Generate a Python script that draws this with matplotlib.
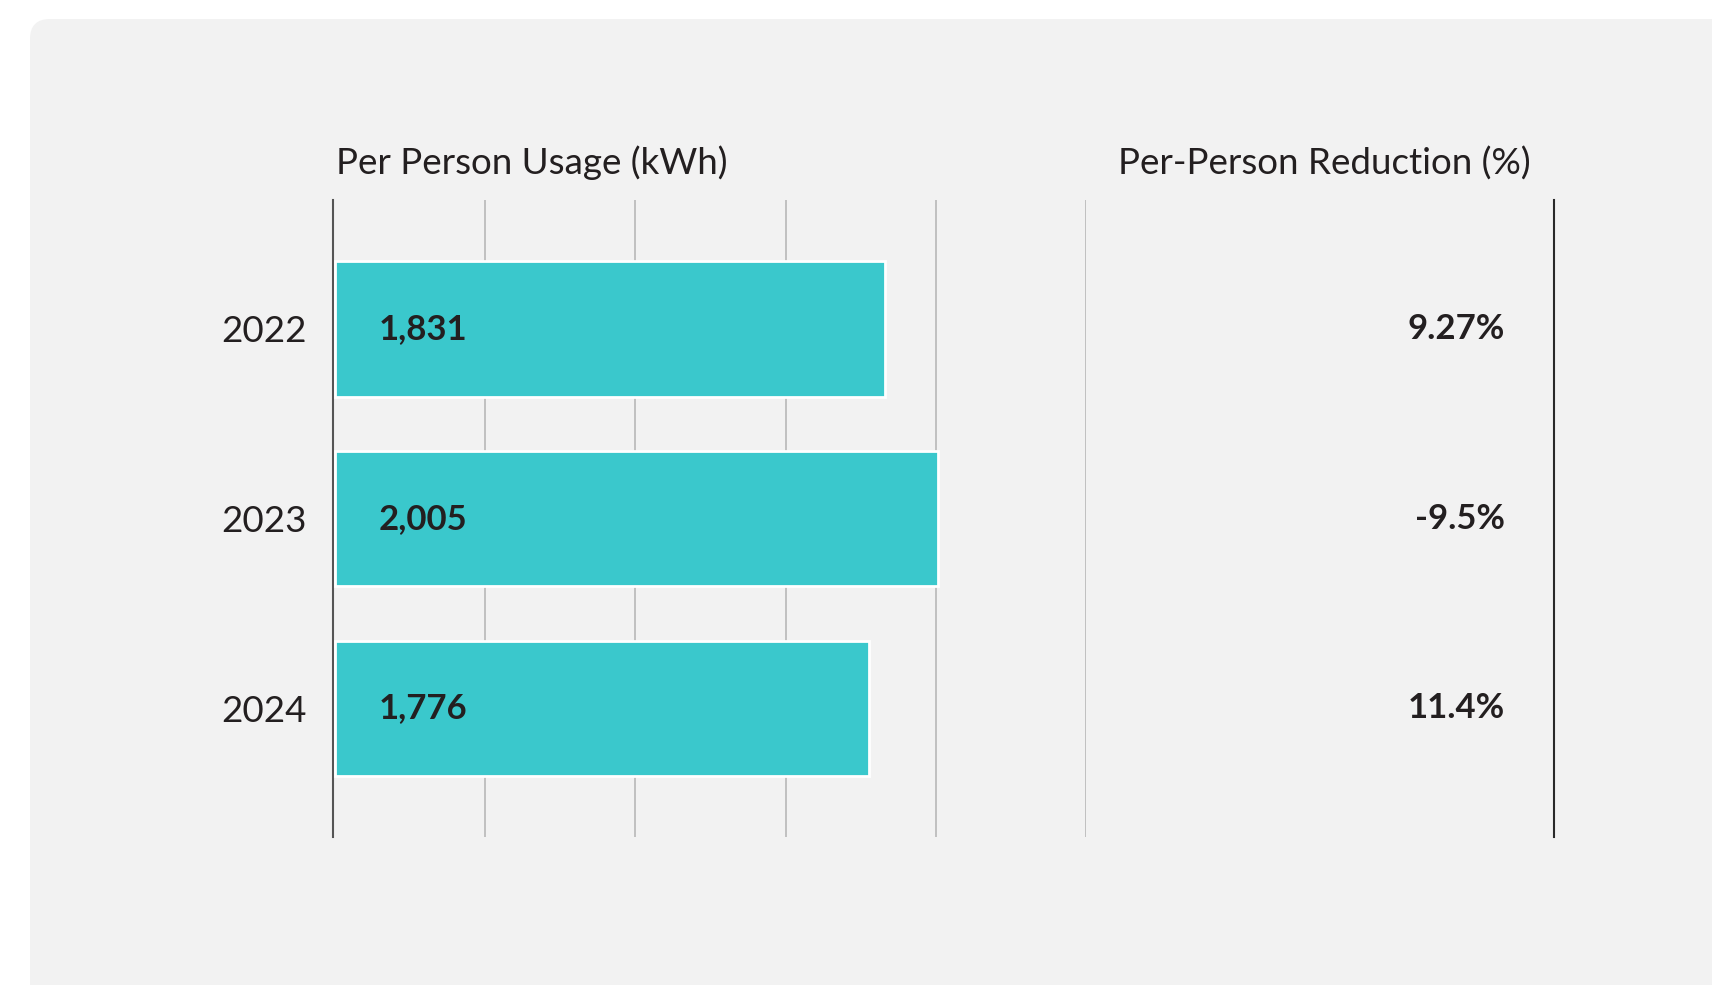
import matplotlib.pyplot as plt
from matplotlib.patches import FancyBboxPatch

years = ["2022", "2023", "2024"]
usage_kwh = [1831, 2005, 1776]
reduction_labels = ["9.27%", "-9.5%", "11.4%"]
grid_ticks = [0, 500, 1000, 1500, 2000, 2500]

TEAL = "#3ac8cc"
PANEL = "#f2f2f2"
INK = "#231f20"

plt.rcParams['font.family'] = ['Lato', 'DejaVu Sans']

W, H = 1712, 985
fig = plt.figure(figsize=(W / 100, H / 100), dpi=100)
fig.patch.set_facecolor("white")

# rounded grey card behind everything (pixel coordinates)
bg = fig.add_axes([0, 0, 1, 1], zorder=-1)
bg.set_xlim(0, W)
bg.set_ylim(H, 0)
bg.axis("off")
bg.add_patch(FancyBboxPatch((30, 19), W + 100, H + 100,
                            boxstyle="round,pad=0,rounding_size=20",
                            facecolor=PANEL, edgecolor="none"))

# bar panel
ax = fig.add_axes([333 / W, 147.6 / H, 753.4 / W, 637.6 / H])
ax.set_facecolor("none")
ypos = list(range(len(years)))
ax.barh(ypos, usage_kwh, height=0.715, color=TEAL, edgecolor="white",
        linewidth=2, zorder=3)
ax.set_xlim(-5, 2500)
ax.set_ylim(len(years) - 0.32, -0.68)

for g in grid_ticks[1:]:
    ax.axvline(g, color="#bcbcbc", lw=1.3, zorder=1)

for s in ["top", "right", "bottom"]:
    ax.spines[s].set_visible(False)
ax.spines["left"].set_color("#555555")
ax.spines["left"].set_linewidth(1.5)
ax.set_xticks([])
ax.set_yticks(ypos)
ax.set_yticklabels(years, fontsize=26.5, color=INK)
ax.tick_params(axis="y", length=0, pad=19)

for y, v in zip(ypos, usage_kwh):
    ax.annotate(f"{v:,}", (0, y), xytext=(31.5, 0), textcoords="offset points",
                ha="left", va="center", fontsize=25, fontweight="bold",
                color=INK, zorder=4)

ax.text(0.004, 1.04, "Per Person Usage (kWh)", transform=ax.transAxes,
        ha="left", va="baseline", fontsize=26.5, color=INK)

# percentage column
ax2 = fig.add_axes([1086.4 / W, 147.6 / H, 467.2 / W, 637.6 / H], sharey=ax)
ax2.set_facecolor("none")
ax2.set_xlim(0, 1)
for s in ["top", "bottom", "left"]:
    ax2.spines[s].set_visible(False)
ax2.spines["right"].set_color("#2a2a2a")
ax2.spines["right"].set_linewidth(1.5)
ax2.set_xticks([])
ax2.tick_params(axis="y", left=False, labelleft=False)

for y, lab in zip(ypos, reduction_labels):
    ax2.text(0.896, y, lab, ha="right", va="center", fontsize=25,
             fontweight="bold", color=INK)

ax2.text(0.51, 1.04, "Per-Person Reduction (%)", transform=ax2.transAxes,
         ha="center", va="baseline", fontsize=26.5, color=INK)

fig.savefig("out.png", dpi=100, facecolor=fig.get_facecolor())
